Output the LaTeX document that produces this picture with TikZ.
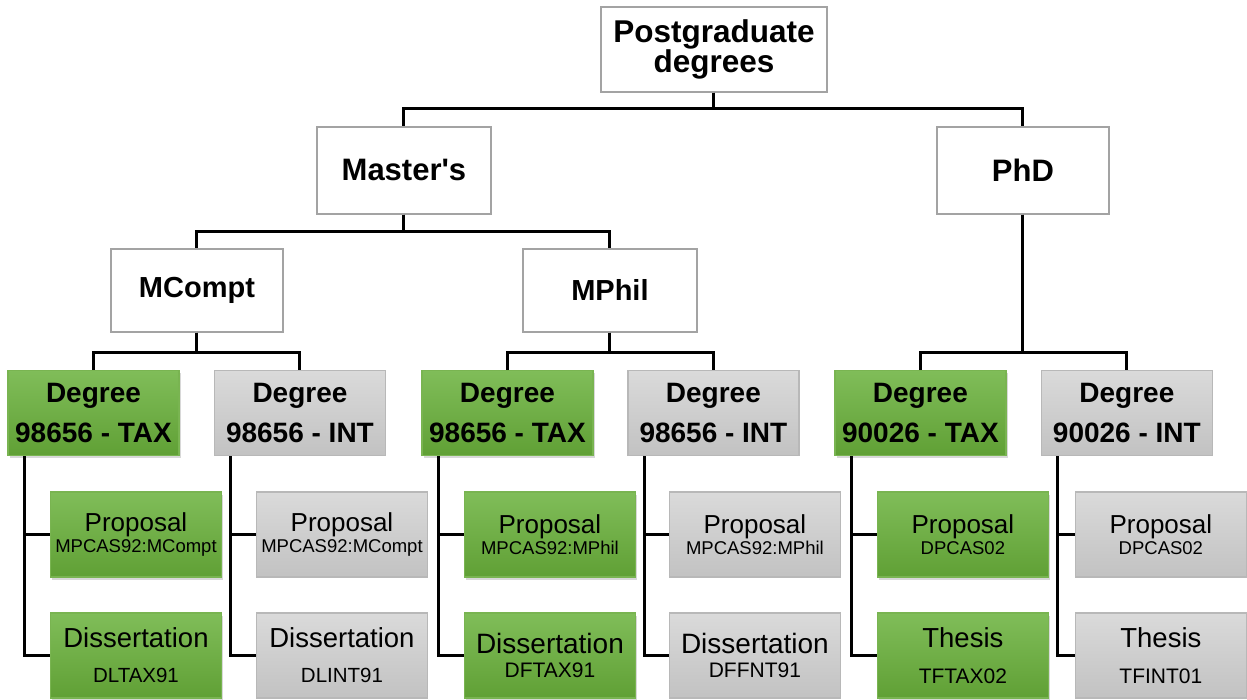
\documentclass[tikz,border=0pt]{standalone}
\usepackage{fontspec}
\setmainfont{Liberation Sans}
\usetikzlibrary{shadows}

\definecolor{taxtop}{HTML}{80BD59}
\definecolor{taxbot}{HTML}{60A035}
\definecolor{taxline}{HTML}{79B451}
\definecolor{inttop}{HTML}{DADADA}
\definecolor{intbot}{HTML}{C2C2C2}
\definecolor{intline}{HTML}{B8B8B8}
\definecolor{headline}{HTML}{A3A3A3}

\newcommand{\codetxt}[2]{{\fontsize{#1}{#1}\selectfont #2}}

\tikzset{
  box/.style={rectangle,inner sep=0pt,align=center,line width=1.3pt},
  headbox/.style={box,draw=headline,fill=white,font=\bfseries\fontsize{31}{28}\selectfont},
  taxbox/.style={box,draw=taxline,top color=taxtop,bottom color=taxbot,
    minimum width=171pt,minimum height=85pt,
    drop shadow={shadow xshift=2pt,shadow yshift=-3pt,opacity=0.3}},
  intbox/.style={box,draw=intline,top color=inttop,bottom color=intbot,
    minimum width=171pt,minimum height=85pt},
  degtxt/.style={font=\bfseries\fontsize{28}{40}\selectfont},
  proptxt/.style={font=\fontsize{26}{21}\selectfont},
  disstxt/.style={font=\fontsize{27.5}{35}\selectfont},
  link/.style={line width=3pt,black}
}

\begin{document}
\begin{tikzpicture}[x=1pt,y=-1pt,line join=miter]
  \fill[white] (0,0) rectangle (1247,700);

  % upper levels
  \node[headbox,minimum width=226pt,minimum height=85pt,font=\bfseries\fontsize{31.5}{28}\selectfont] (root) at (714,49.5) {Postgraduate\\degrees};
  \node[headbox,minimum width=174pt,minimum height=87pt] (masters) at (404,170.5) {Master\textquotesingle s};
  \node[headbox,minimum width=172pt,minimum height=87pt] (phd) at (1023,170.5) {PhD};
  \node[headbox,minimum width=172pt,minimum height=83pt,font=\bfseries\fontsize{29}{29}\selectfont] (mcompt) at (197,290.5) {MCompt};
  \node[headbox,minimum width=174pt,minimum height=83pt,font=\bfseries\fontsize{29}{29}\selectfont] (mphil) at (610,290.5) {MPhil};

  % degree codes
  \node[taxbox,degtxt] (deg1) at (93.5,413) {Degree\\98656 - TAX};
  \node[intbox,degtxt] (deg2) at (300,413) {Degree\\98656 - INT};
  \node[taxbox,degtxt] (deg3) at (507.5,413) {Degree\\98656 - TAX};
  \node[intbox,degtxt] (deg4) at (713.5,413) {Degree\\98656 - INT};
  \node[taxbox,degtxt] (deg5) at (920.5,413) {Degree\\90026 - TAX};
  \node[intbox,degtxt] (deg6) at (1127,413) {Degree\\90026 - INT};

  % proposals
  \node[taxbox,proptxt] (prop1) at (136,534.5) {Proposal\\\codetxt{18.5}{MPCAS92:MCompt}};
  \node[intbox,proptxt] (prop2) at (342,534.5) {Proposal\\\codetxt{18.5}{MPCAS92:MCompt}};
  \node[taxbox,proptxt] (prop3) at (550,534.5) {Proposal\\\codetxt{18.5}{MPCAS92:MPhil}};
  \node[intbox,proptxt] (prop4) at (755,534.5) {Proposal\\\codetxt{18.5}{MPCAS92:MPhil}};
  \node[taxbox,proptxt] (prop5) at (963,534.5) {Proposal\\\codetxt{18.5}{DPCAS02}};
  \node[intbox,proptxt] (prop6) at (1161,534.5) {Proposal\\\codetxt{18.5}{DPCAS02}};

  % dissertations and theses
  \node[taxbox,disstxt] (diss1) at (136,655.5) {Dissertation\\\codetxt{20.5}{DLTAX91}};
  \node[intbox,disstxt] (diss2) at (342,655.5) {Dissertation\\\codetxt{20.5}{DLINT91}};
  \node[taxbox,font=\fontsize{28}{24}\selectfont] (diss3) at (550,655.5) {Dissertation\\\codetxt{21}{DFTAX91}};
  \node[intbox,font=\fontsize{28}{24}\selectfont] (diss4) at (755,655.5) {Dissertation\\\codetxt{21}{DFFNT91}};
  \node[taxbox,font=\fontsize{27.5}{36}\selectfont] (diss5) at (963,655.5) {Thesis\\\codetxt{21}{TFTAX02}};
  \node[intbox,font=\fontsize{27.5}{36}\selectfont] (diss6) at (1161,655.5) {Thesis\\\codetxt{21}{TFINT01}};

  % tree lines
  \draw[link] (root.south) -- ++(0,16) -| (masters.north);
  \draw[link] (root.south) -- ++(0,16) -| (phd.north);
  \draw[link] (masters.south) -- ++(0,17) -| (mcompt.north);
  \draw[link] (masters.south) -- ++(0,17) -| (mphil.north);
  \draw[link] (mcompt.south) -- ++(0,20) -| (deg1.north);
  \draw[link] (mcompt.south) -- ++(0,20) -| (deg2.north);
  \draw[link] (mphil.south) -- ++(0,20) -| (deg3.north);
  \draw[link] (mphil.south) -- ++(0,20) -| (deg4.north);
  \draw[link] (phd.south) -- ++(0,138) -| (deg5.north);
  \draw[link] (phd.south) -- ++(0,138) -| (deg6.north);
  \foreach \i in {1,...,6}{
    \draw[link] ([xshift=17pt]deg\i.south west) |- (prop\i.west);
    \draw[link] ([xshift=17pt]deg\i.south west) |- (diss\i.west);
  }
\end{tikzpicture}
\end{document}
